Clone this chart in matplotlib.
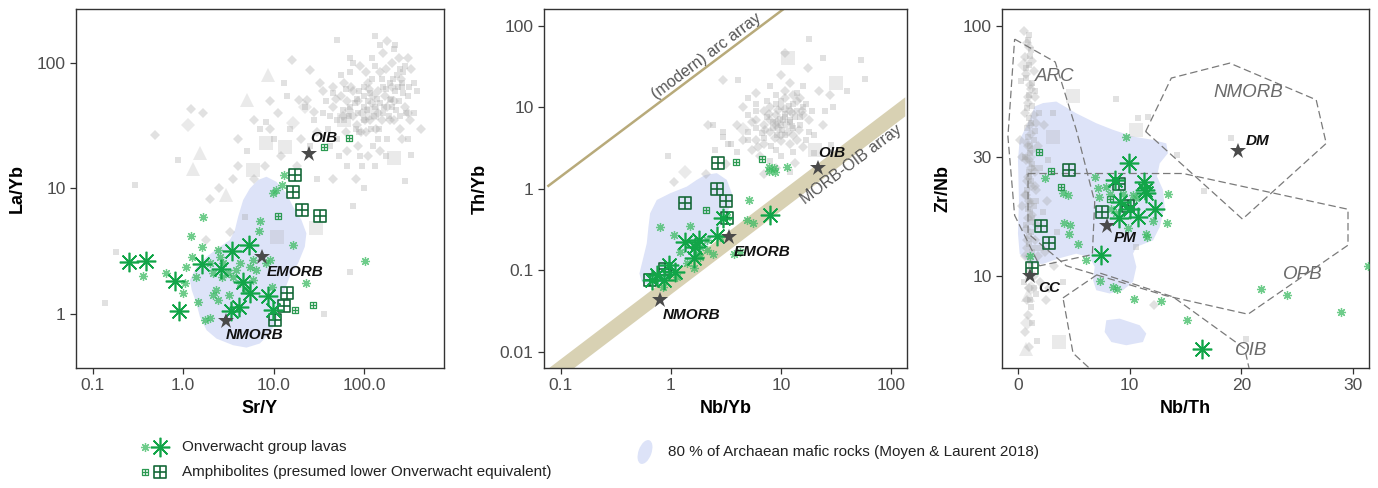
import numpy as np
import matplotlib
matplotlib.use('Agg')
import matplotlib.pyplot as plt
from matplotlib.path import Path
from matplotlib.patches import Polygon, Ellipse

plt.rcParams['font.family'] = ['Liberation Sans', 'DejaVu Sans']

# ---------------- DATA ----------------
# Panel 1: Sr/Y vs La/Yb
p1_lav_big_x = [0.25, 0.39, 0.82, 0.90, 1.62, 2.58, 3.47, 5.30, 4.58, 5.43, 4.14, 3.41, 8.65, 9.82]
p1_lav_big_y = [2.57, 2.64, 1.84, 1.05, 2.51, 2.27, 3.19, 3.54, 1.80, 1.46, 1.13, 1.05, 1.38, 1.07]
p1_lav_sm_x = [1.66, 1.21, 1.63, 1.25, 0.356, 0.64, 1.07, 1.05, 1.45, 1.73, 2.0, 2.43, 2.33, 2.43, 3.13,
               3.56, 4.22, 5.43, 6.44, 7.0, 6.88, 5.90, 5.90, 8.3, 9.18, 9.5, 9.82, 10.5, 12.2, 12.9,
               16.3, 22.5, 102.6, 2.14, 2.65, 1.40, 4.22, 1.97, 2.75, 3.87, 4.99, 2.54, 0.99, 3.18, 2.14]
p1_lav_sm_y = [5.95, 4.18, 3.43, 2.85, 2.0, 2.10, 2.37, 1.75, 1.25, 0.89, 0.93, 3.23, 1.55, 1.29, 2.10,
               1.98, 2.53, 2.37, 2.23, 5.53, 4.58, 2.69, 1.86, 2.53, 2.69, 1.64, 9.16, 9.73, 10.7, 12.8,
               3.54, 1.77, 2.64, 2.10, 1.98, 1.98, 1.75, 2.53, 2.53, 2.23, 1.55, 2.85, 1.46, 1.41, 1.41]
p1_amp_big_x = [17.2, 16.3, 20.5, 32.1, 14.0, 12.9, 10.3]
p1_amp_big_y = [12.8, 9.33, 6.73, 6.03, 1.455, 1.15, 0.90]
p1_amp_sm_x = [67.1, 36.2, 11.1, 17.0, 27.4]
p1_amp_sm_y = [25.2, 21.3, 6.03, 1.08, 1.17]
p1_star_x = [3.0, 7.43, 24.5]
p1_star_y = [0.874, 2.85, 18.9]
p1_star_lab = ['NMORB', 'EMORB', 'OIB']
p1_lab_x = [6.17, 17.1, 35.6]
p1_lab_y = [0.684, 2.17, 25.2]
p1_blue_x = [8.3, 10.7, 13.8, 16.3, 20.2, 22.9, 22.0, 18.5, 15.0, 13.2, 11.6, 10.7, 9.03, 7.0, 5.0, 3.56,
             2.33, 1.81, 1.53, 1.40, 1.24, 1.19, 1.40, 1.81, 2.54, 3.27, 3.72, 4.04, 4.59, 5.44, 6.71]
p1_blue_y = [12.4, 11.3, 9.15, 7.16, 5.6, 4.39, 3.43, 2.52, 1.98, 1.55, 1.21, 0.89, 0.697, 0.58, 0.538, 0.562,
             0.635, 0.741, 0.946, 1.21, 1.55, 1.86, 2.37, 2.85, 3.43, 3.88, 4.66, 5.96, 8.09, 10.0, 11.7]
p1_gsq_x = [0.137, 0.18, 0.88, 8.3, 4.8, 70, 36, 75, 280, 330, 350, 280, 220, 130, 50, 70, 260, 190, 45, 13, 0.29,
            40, 50, 60, 70, 80, 90, 100, 110, 120, 130, 145, 160, 180, 200, 220, 240, 260, 300, 350, 70, 95, 130,
            175, 120, 55, 35, 25, 28, 22, 15, 10, 7, 5, 14, 65, 100, 30, 300, 150, 270, 380, 50, 100, 160, 85, 125,
            190, 230,
            42, 58, 68, 78, 88, 98, 108, 118, 128, 138, 148, 158, 172, 185, 205, 225, 245, 270, 310, 52, 88, 140,
            38, 42, 130, 250, 210, 75, 100, 115, 165, 195, 62, 82, 235, 290]
p1_gsq_y = [1.22, 3.09, 16.9, 34, 5.96, 2.17, 0.99, 7.2, 11.4, 18.5, 40, 94, 139, 163, 154, 110, 69, 51, 58, 69, 10.6,
            30, 25, 35, 45, 30, 18, 65, 50, 75, 45, 30, 40, 25, 45, 60, 50, 65, 55, 70, 85, 15, 15,
            18, 110, 80, 40, 22, 35, 45, 30, 25, 30, 20, 55, 15, 10, 12, 25, 140, 85, 60, 35, 45, 65, 40, 22,
            70, 80,
            38, 42, 38, 48, 60, 55, 42, 30, 38, 52, 48, 75, 62, 38, 75, 42, 38, 58, 65, 18, 28, 25,
            50, 22, 95, 90, 130, 100, 35, 58, 45, 52, 62, 52, 65, 40]
p1_gdi_x = [0.49, 1.23, 1.66, 2.0, 3.3, 1.8, 19, 23, 28, 160, 110, 32, 25, 16,
            45, 55, 65, 75, 85, 95, 105, 115, 125, 140, 150, 170, 190, 210, 250, 280, 320, 60, 85, 110, 150, 200,
            90, 45, 30, 35, 20, 18, 12, 8, 6, 4, 11, 9, 80, 45, 260, 180, 240, 330, 420, 75, 65, 3.5, 2.5, 6, 4, 9,
            48, 62, 72, 92, 102, 112, 122, 142, 155, 178, 215, 255, 300, 105, 175, 300, 135, 82, 58, 200, 68]
p1_gdi_y = [26.7, 43, 40, 8.3, 4.5, 3.9, 51, 51, 41, 120, 69, 69, 88, 106,
            45, 55, 20, 60, 50, 40, 28, 35, 55, 60, 85, 55, 35, 35, 30, 45, 35, 70, 22, 18, 20, 100,
            95, 65, 28, 60, 25, 15, 18, 15, 12, 15, 40, 50, 12, 12, 25, 150, 110, 90, 30, 38, 50, 12, 10, 35, 25, 30,
            52, 28, 65, 28, 35, 62, 48, 40, 35, 45, 50, 75, 40, 85, 90, 110, 30, 32, 38, 65, 42]
p1_gbsq_x = [5.9, 8.3, 13.2, 10.8, 29.5, 215, 60, 120]
p1_gbsq_y = [14.1, 23, 21.6, 4.1, 4.8, 17.4, 35, 40]
p1_gbdi_x = [1.13, 16.3, 22]
p1_gbdi_y = [32, 33, 45]
p1_gtri_x = [1.53, 1.27, 3.0, 5.0, 8.7]
p1_gtri_y = [19.1, 14.2, 8.9, 51, 81]

# Panel 2: Nb/Yb vs Th/Yb
p2_lav_big_x = [1.35, 1.66, 1.61, 1.82, 2.62, 3.01, 8.0, 0.97, 0.746, 0.672, 1.09, 0.87]
p2_lav_big_y = [0.223, 0.194, 0.139, 0.234, 0.262, 0.431, 0.474, 0.115, 0.0868, 0.0754, 0.0955, 0.0754]
p2_lav_sm_x = [0.80, 1.50, 1.07, 1.22, 1.61, 1.85, 2.12, 2.44, 1.40, 1.85, 1.13, 0.857, 5.19, 3.72, 4.91,
               5.56, 7.73, 8.58, 11.3, 8.88, 7.73, 3.23, 2.81, 4.27, 1.61, 2.12, 1.75]
p2_lav_sm_y = [0.341, 0.348, 0.269, 0.168, 0.213, 0.194, 0.176, 0.160, 0.121, 0.146, 0.0828, 0.0624, 0.726,
               0.160, 0.412, 0.375, 1.86, 1.78, 1.86, 1.62, 1.66, 0.453, 0.257, 0.168, 0.105, 0.234, 0.160]
p2_amp_big_x = [2.66, 2.62, 3.16, 1.35, 3.23, 0.649, 0.887]
p2_amp_big_y = [2.09, 0.98, 0.705, 0.673, 0.431, 0.0754, 0.102]
p2_amp_sm_x = [3.90, 6.71, 2.09, 0.95]
p2_amp_sm_y = [2.11, 2.32, 0.547, 0.105]
p2_star_x = [0.79, 3.41, 21.7]
p2_star_y = [0.0436, 0.252, 1.81]
p2_star_lab = ['NMORB', 'EMORB', 'OIB']
p2_lab_x = [1.55, 6.71, 29.1]
p2_lab_y = [0.0285, 0.165, 2.77]
p2_arc_x = [0.0757, 12.0]
p2_arc_y = [1.06, 181.6]
p2_band_x = [0.05, 135, 135, 0.05]
p2_band_y = [0.00231, 7.70, 13.2, 0.00396]
p2_blue_x = [2.05, 2.62, 3.23, 3.59, 3.46, 3.01, 2.62, 2.12, 1.72, 1.30, 1.06, 0.857, 0.672, 0.545, 0.519,
             0.556, 0.605, 0.627, 0.649, 0.746, 0.986, 1.40, 1.72]
p2_blue_y = [1.47, 1.55, 1.28, 0.877, 0.601, 0.412, 0.283, 0.194, 0.146, 0.110, 0.0828, 0.0655, 0.0624, 0.0719,
             0.091, 0.133, 0.213, 0.341, 0.498, 0.726, 0.877, 1.06, 1.28]
p2_gsq_x = [0.95, 3.3, 18.2, 24, 53, 58, 40, 19.8, 28.5, 2.4, 3.0, 4.1,
            10, 12, 11, 13, 14, 10, 9, 15, 18, 5, 4, 8, 10, 13, 9, 6, 14, 17, 19, 17, 3.5, 8, 16, 7.5, 10.5,
            8.5, 6, 13, 5, 25, 3, 2.5, 12, 20, 30, 5,
            8.5, 10.2, 9.8, 12.2, 10.8, 11.8, 13.5, 6.8, 8.2, 9, 7.5, 16, 6, 5, 15, 10, 11, 7, 9.3, 12.6]
p2_gsq_y = [2.5, 3.5, 68.5, 40, 38, 22, 16, 2.72, 3.4, 6.1, 4.3, 21.7,
            6, 7, 4.5, 5.5, 9, 12, 3, 6, 5, 5, 2.8, 2.2, 2.5, 11, 14, 11, 15, 11, 9, 4, 3.5, 18, 18, 7.5, 7,
            6.5, 5.5, 2.8, 8, 9, 5, 3, 1.6, 4.5, 10, 13,
            5.5, 5.2, 7.2, 6.6, 8.2, 10.2, 7.5, 4.8, 3.3, 11, 12, 10, 9, 4, 7.5, 10, 7.5, 4.2, 4.6, 5.8]
p2_gdi_x = [1.06, 2.17, 3.0, 10.9, 17.5, 13.4, 2.1,
            8, 9, 12, 7, 6, 8, 7, 16, 6, 5.5, 4.5, 6.5, 11, 15, 7, 11, 12, 22, 4, 10, 9.5, 11.5, 12.5, 14, 16,
            4.5, 28, 3.2, 9, 7, 24, 6,
            9.2, 11.2, 8.8, 7.2, 9.4, 7.8, 12.8, 10, 14.5, 11, 13, 18, 5.5, 12, 8, 10, 14, 9, 6.2, 15.5]
p2_gdi_y = [1.2, 6.1, 21.7, 46, 30, 2.05, 1.5,
            5, 8, 3.5, 3.5, 4, 10, 6, 8, 7, 3, 4, 2.5, 9.5, 13, 9, 16, 20, 16, 6, 25, 5.5, 5, 8.5, 4, 3.2,
            10, 14, 2, 1.8, 1.5, 6, 15,
            6.5, 6.2, 4.2, 5.2, 9.2, 8.2, 4.6, 3.8, 5.2, 13, 14, 7, 6.5, 9, 7, 4.5, 12, 6, 3.2, 9]
p2_gbsq_x = [11.7, 32, 20.4]
p2_gbsq_y = [40, 20, 3.0]
p2_gbdi_x = [1.35, 4.5]
p2_gbdi_y = [1.6, 5.4]

# Panel 3: Nb/Th vs Zr/Nb
p3_lav_big_x = [9.94, 8.66, 11.25, 11.49, 9.10, 10.06, 10.75, 12.24, 9.04, 7.40, 16.5, 11.34]
p3_lav_big_y = [28.4, 24.2, 23.8, 21.4, 19.8, 18.6, 17.3, 18.6, 17.0, 12.1, 5.14, 22.1]
p3_lav_sm_x = [9.70, 2.39, 4.03, 4.48, 4.09, 4.69, 4.54, 5.37, 1.04, 6.06, 7.31, 8.51, 8.87, 10.36, 12.78,
               15.13, 21.8, 24.1, 28.9, 31.3, 6.87, 7.16, 7.91, 7.22, 13.43, 13.37, 12.09, 11.49, 11.55, 9.85,
               8.21, 9.40, 10.60, 8.81, 8.36, 10.3]
p3_lav_sm_y = [35.9, 24.6, 21.4, 21.1, 16.3, 16.0, 14.7, 13.4, 12.0, 11.6, 9.55, 9.06, 8.9, 8.09, 7.97,
               6.71, 8.85, 8.40, 7.20, 11.0, 25.0, 22.4, 22.7, 20.7, 21.2, 16.3, 16.6, 14.8, 14.3, 15.6,
               21.2, 21.2, 20.5, 17.8, 18.6, 21.0]
p3_amp_big_x = [4.57, 9.04, 7.55, 9.85, 2.09, 2.75, 1.28]
p3_amp_big_y = [26.5, 23.3, 18.1, 19.0, 15.9, 13.6, 10.8]
p3_amp_sm_x = [1.88, 2.93, 3.88, 8.21]
p3_amp_sm_y = [31.4, 26.4, 22.6, 20.3]
p3_star_x = [1.04, 8.0, 19.7]
p3_star_y = [10.0, 15.9, 31.7]
p3_star_lab = ['CC', 'PM', 'DM']
p3_lab_x = [2.84, 9.64, 21.5]
p3_lab_y = [9.01, 14.2, 34.5]
p3_fields = {
    'ARC': ([-0.30, 3.34, 5.22, 6.87, 6.66, 1.94, -0.30, -0.90],
            [88.4, 71.6, 38.4, 19.8, 12.2, 11.0, 17.5, 36.1]),
    'OPB': ([0.90, 14.78, 29.55, 29.55, 20.6, 13.28, 4.33, 0.90],
            [25.7, 25.7, 18.5, 13.3, 7.05, 8.35, 11.0, 14.8]),
    'OIB': ([4.03, 7.31, 13.88, 20.3, 21.0, 7.91, 4.93],
            [8.19, 10.3, 8.27, 5.14, 3.72, 3.72, 4.93]),
    'NMORB': ([11.43, 13.73, 18.96, 26.7, 27.6, 20.1],
              [37.8, 61.8, 70.9, 50.6, 33.9, 16.9]),
}
p3_field_lab_x = [3.28, 20.6, 25.5, 20.9]
p3_field_lab_y = [62.7, 54.1, 10.2, 5.06]
p3_field_lab = ['ARC', 'NMORB', 'OPB', 'OIB']
p3_blue_x = [2.24, 3.43, 5.22, 7.01, 8.51, 10.30, 12.09, 13.28, 13.43, 12.69, 12.45, 12.99, 13.13, 12.69,
             12.09, 10.60, 10.30, 10.60, 10.30, 9.40, 8.21, 7.01, 6.72, 6.87, 6.42, 5.22, 3.73, 2.24, 1.04,
             0.15, 0.0, 0.09, 0.0, 0.15, 1.04, 1.49]
p3_blue_y = [49.1, 49.8, 44.7, 40.8, 38.4, 36.1, 35.0, 33.9, 31.0, 28.2, 25.0, 22.1, 18.9, 15.7,
             13.9, 13.1, 12.3, 10.9, 9.49, 8.79, 8.53, 8.79, 9.64, 10.9, 11.9, 12.3, 11.8, 11.2, 11.2,
             12.3, 14.8, 20.1, 29.1, 35.0, 42.1, 47.6]
p3_blue2_x = [7.91, 9.10, 10.90, 11.49, 11.19, 9.70, 8.36, 7.76]
p3_blue2_y = [6.67, 6.77, 6.37, 5.90, 5.46, 5.30, 5.46, 5.99]
p3_gsq_x = [1.0, 1.2, 1.0, 0.7, 1.5, 1.3, 1.0, 0.8, 1.4, 1.1, 1.3, 1.0, 1.4, 1.1, 1.3, 1.2, 1.0, 1.3, 2.1,
            1.1, 0.9, 0.5, 1.6, 1.2, 1.3, 1.7, 2.2, 2.0, 3.5, 4.0, 0.3, 1.9, 3.1,
            8.81, 10.75, 11.64, 19.1, 14.2, 16.7, 10.6, 20.4, 2.7,
            0.9, 1.1, 0.7, 1.3, 1.0, 0.8, 1.2, 1.5, 0.9, 1.1, 0.6, 1.4, 1.0, 1.2, 0.8, 1.6, 1.1, 0.9,
            1.3, 0.7, 1.0, 1.5, 1.2, 0.9, 1.4, 1.1]
p3_gsq_y = [92, 80, 70, 62, 55, 48, 43, 39, 35, 31, 28, 25, 19, 18, 16.5, 15, 13.5, 12.5, 13,
            11.5, 10.5, 9.5, 8.5, 7.5, 6.5, 5.5, 18, 27, 15, 9.5, 60, 45, 45,
            51, 42.7, 43.4, 35.5, 30.5, 21.8, 13.1, 5.6, 29,
            88, 76, 68, 59, 53, 47, 41, 38, 36, 33, 30, 27, 26, 24, 22, 20, 20, 18.5,
            17, 16, 14.5, 13, 11, 10, 9, 8]
p3_gdi_x = [0.5, 0.8, 0.6, 1.4, 1.1, 1.5, 0.9, 0.6, 1.6, 1.2, 0.9, 0.7, 1.5, 0.8, 1.2, 1.6, 0.6, 1.0, 0.9,
            1.7, 0.7, 1.5, 0.8, 1.8, 2.4, 0.6, 1.4, 1.0, 0.8, 0.9, 0.6, 1.0, 2.0, 2.5, 2.8, 2.6, 0.2, 0.4, 0.35,
            1.8, 2.3, 3.2, 12.2,
            1.0, 1.3, 0.7, 1.2, 0.9, 1.4, 1.1, 0.8, 1.3, 1.0, 1.2, 0.9, 1.5, 0.7, 1.1, 1.3, 0.8, 1.0]
p3_gdi_y = [95, 85, 75, 66, 58, 52, 52, 45, 41, 37, 33, 29, 26, 24, 23, 22, 21, 20, 17,
            16, 15.5, 14, 13, 12, 12.5, 12, 10, 9, 8, 7, 6, 5.2, 9.5, 8.0, 9.0, 20, 35, 19, 30,
            33, 40, 11.0, 7.7,
            82, 72, 64, 56, 49, 44, 40, 34, 32, 29, 27, 25, 23, 21, 19.5, 17.5, 14, 12]
p3_gbsq_x = [4.93, 10.6, 3.13, 3.67]
p3_gbsq_y = [52.2, 38.4, 36.1, 5.46]
p3_gbdi_x = [0.5, 1.2, 0.8, 1.0]
p3_gbdi_y = [70, 9.0, 6.5, 30]
p3_gtri_x = [0.75, 0.9]
p3_gtri_y = [5.1, 8.4]

# ---------------- STYLE ----------------
GRAY = '#a3a3a3'
BLUE = '#dde3f8'
LAV_BIG = '#12a548'
LAV_SM = '#3dbb63'
AMP_BIG = '#17693a'
AMP_SM = '#2c9a52'
STAR = '#4a4a4a'

sqplus = Path([(-1, -1), (1, -1), (1, 1), (-1, 1), (-1, -1), (0, -1), (0, 1), (-1, 0), (1, 0)],
              [Path.MOVETO, Path.LINETO, Path.LINETO, Path.LINETO, Path.CLOSEPOLY,
               Path.MOVETO, Path.LINETO, Path.MOVETO, Path.LINETO])
ASTER = (8, 2, 0)

fig = plt.figure(figsize=(13.78, 4.88), dpi=100)
W, H = 1378.0, 488.0


def mkax(left, right, top=9, bottom=368):
    return fig.add_axes([left / W, 1 - bottom / H, (right - left) / W, (bottom - top) / H])


ax1 = mkax(76, 444)
ax2 = mkax(544, 907)
ax3 = mkax(1002, 1369)


def gray(ax, sx, sy, dx, dy, bsx, bsy, bdx, bdy, tx=None, ty=None):
    kw = dict(ls='none', color=GRAY, alpha=0.32, mew=0, zorder=2)
    ax.plot(sx, sy, marker='s', ms=5.0, **kw)
    ax.plot(dx, dy, marker='D', ms=4.8, **kw)
    ax.plot(bsx, bsy, marker='s', ms=9.5, **dict(kw, alpha=0.22))
    ax.plot(bdx, bdy, marker='D', ms=7.5, **dict(kw, alpha=0.22))
    if tx is not None:
        ax.plot(tx, ty, marker='^', ms=10, **dict(kw, alpha=0.22))


def green(ax, lbx, lby, lsx, lsy, abx, aby, asx, asy):
    ax.plot(lsx, lsy, ls='none', marker=ASTER, ms=6.5, mec=LAV_SM, mew=0.9, alpha=0.75, zorder=4)
    ax.plot(asx, asy, ls='none', marker=sqplus, ms=5.0, mfc='none', mec=AMP_SM, mew=0.9, zorder=4)
    ax.plot(abx, aby, ls='none', marker=sqplus, ms=8.8, mfc='none', mec=AMP_BIG, mew=1.2, zorder=4)
    ax.plot(lbx, lby, ls='none', marker=ASTER, ms=14, mec=LAV_BIG, mew=1.2, zorder=4)


def stars(ax, sx, sy, lx, ly, labs):
    ax.plot(sx, sy, ls='none', marker='*', ms=12, color=STAR, mew=0, zorder=5)
    for x, y, t in zip(lx, ly, labs):
        ax.text(x, y, t, ha='center', va='center', fontsize=11, fontweight='bold', fontstyle='italic',
                color='#111111', zorder=6)


def style(ax, xlabel, ylabel):
    for s in ax.spines.values():
        s.set_color('#333333')
        s.set_linewidth(1.0)
    ax.tick_params(which='major', direction='out', length=4, width=0.9, color='#333333',
                   labelcolor='#4d4d4d', labelsize=12.5)
    ax.tick_params(which='minor', length=0)
    ax.set_xlabel(xlabel, fontsize=13, fontweight='bold', labelpad=5)
    ax.set_ylabel(ylabel, fontsize=13, fontweight='bold', labelpad=8)


# ---- Panel 1 ----
ax1.set_xscale('log')
ax1.set_yscale('log')
ax1.add_patch(Polygon(list(zip(p1_blue_x, p1_blue_y)), closed=True, fc=BLUE, ec='none', zorder=1))
gray(ax1, p1_gsq_x, p1_gsq_y, p1_gdi_x, p1_gdi_y, p1_gbsq_x, p1_gbsq_y, p1_gbdi_x, p1_gbdi_y, p1_gtri_x, p1_gtri_y)
green(ax1, p1_lav_big_x, p1_lav_big_y, p1_lav_sm_x, p1_lav_sm_y, p1_amp_big_x, p1_amp_big_y, p1_amp_sm_x, p1_amp_sm_y)
stars(ax1, p1_star_x, p1_star_y, p1_lab_x, p1_lab_y, p1_star_lab)
ax1.set_xlim(0.0655, 757)
ax1.set_ylim(0.37, 270)
ax1.set_xticks([0.1, 1, 10, 100])
ax1.set_xticklabels(['0.1', '1.0', '10.0', '100.0'])
ax1.set_yticks([1, 10, 100])
ax1.set_yticklabels(['1', '10', '100'])
style(ax1, 'Sr/Y', 'La/Yb')

# ---- Panel 2 ----
ax2.set_xscale('log')
ax2.set_yscale('log')
ax2.add_patch(Polygon(list(zip(p2_band_x, p2_band_y)), closed=True, fc='#d8d1b3', ec='none', zorder=1.5))
ax2.plot(p2_arc_x, p2_arc_y, color='#b8aa7a', lw=1.8, zorder=1.5, solid_capstyle='butt')
ax2.add_patch(Polygon(list(zip(p2_blue_x, p2_blue_y)), closed=True, fc=BLUE, ec='none', zorder=1))
gray(ax2, p2_gsq_x, p2_gsq_y, p2_gdi_x, p2_gdi_y, p2_gbsq_x, p2_gbsq_y, p2_gbdi_x, p2_gbdi_y)
green(ax2, p2_lav_big_x, p2_lav_big_y, p2_lav_sm_x, p2_lav_sm_y, p2_amp_big_x, p2_amp_big_y, p2_amp_sm_x, p2_amp_sm_y)
stars(ax2, p2_star_x, p2_star_y, p2_lab_x, p2_lab_y, p2_star_lab)
ax2.text(2.12, 42, '(modern) arc array', rotation=36.9, ha='center', va='center', fontsize=11.5,
         color='#555555', rotation_mode='anchor', zorder=6)
ax2.text(44, 2.0, 'MORB-OIB array', rotation=36.8, ha='center', va='center', fontsize=11.5,
         color='#555555', rotation_mode='anchor', zorder=6)
ax2.set_xlim(0.0705, 140)
ax2.set_ylim(0.0063, 160)
ax2.set_xticks([0.1, 1, 10, 100])
ax2.set_xticklabels(['0.1', '1', '10', '100'])
ax2.set_yticks([0.01, 0.1, 1, 10, 100])
ax2.set_yticklabels(['0.01', '0.1', '1', '10', '100'])
style(ax2, 'Nb/Yb', 'Th/Yb')

# ---- Panel 3 ----
ax3.set_yscale('log')
ax3.add_patch(Polygon(list(zip(p3_blue_x, p3_blue_y)), closed=True, fc=BLUE, ec='none', zorder=1))
ax3.add_patch(Polygon(list(zip(p3_blue2_x, p3_blue2_y)), closed=True, fc=BLUE, ec='none', zorder=1))
gray(ax3, p3_gsq_x, p3_gsq_y, p3_gdi_x, p3_gdi_y, p3_gbsq_x, p3_gbsq_y, p3_gbdi_x, p3_gbdi_y, p3_gtri_x, p3_gtri_y)
for name, (fx, fy) in p3_fields.items():
    ax3.add_patch(Polygon(list(zip(fx, fy)), closed=True, fill=False, ec='#7a7a7a', lw=0.9,
                          ls=(0, (6, 3)), zorder=3))
for x, y, t in zip(p3_field_lab_x, p3_field_lab_y, p3_field_lab):
    ax3.text(x, y, t, ha='center', va='center', fontsize=13.5, fontstyle='italic', color='#6b6b6b', zorder=6)
green(ax3, p3_lav_big_x, p3_lav_big_y, p3_lav_sm_x, p3_lav_sm_y, p3_amp_big_x, p3_amp_big_y, p3_amp_sm_x, p3_amp_sm_y)
stars(ax3, p3_star_x, p3_star_y, p3_lab_x, p3_lab_y, p3_star_lab)
ax3.set_xlim(-1.43, 31.43)
ax3.set_ylim(4.30, 116.6)
ax3.set_xticks([0, 10, 20, 30])
ax3.set_yticks([10, 30, 100])
ax3.set_yticklabels(['10', '30', '100'])
ax3.yaxis.set_minor_locator(matplotlib.ticker.NullLocator())
style(ax3, 'Nb/Th', 'Zr/Nb')

# ---- Legend ----
lax = fig.add_axes([0, 0, 1, 1])
lax.set_xlim(0, W)
lax.set_ylim(H, 0)
lax.axis('off')
lax.patch.set_alpha(0)
lax.plot([145], [447], ls='none', marker=ASTER, ms=6.5, mec=LAV_SM, mew=0.9, alpha=0.75)
lax.plot([160], [447], ls='none', marker=ASTER, ms=14, mec=LAV_BIG, mew=1.2)
lax.plot([145], [472], ls='none', marker=sqplus, ms=5.0, mfc='none', mec=AMP_SM, mew=0.9)
lax.plot([160], [472], ls='none', marker=sqplus, ms=8.8, mfc='none', mec=AMP_BIG, mew=1.2)
lax.text(182, 447, 'Onverwacht group lavas', va='center', ha='left', fontsize=11, color='#222222')
lax.text(182, 472, 'Amphibolites (presumed lower Onverwacht equivalent)', va='center', ha='left',
         fontsize=11, color='#222222')
lax.add_patch(Ellipse((645, 452), width=13, height=25, angle=20, fc=BLUE, ec='none'))
lax.text(668, 452, '80 % of Archaean mafic rocks (Moyen & Laurent 2018)', va='center', ha='left',
         fontsize=11, color='#222222')

fig.savefig('out.png', dpi=100)
